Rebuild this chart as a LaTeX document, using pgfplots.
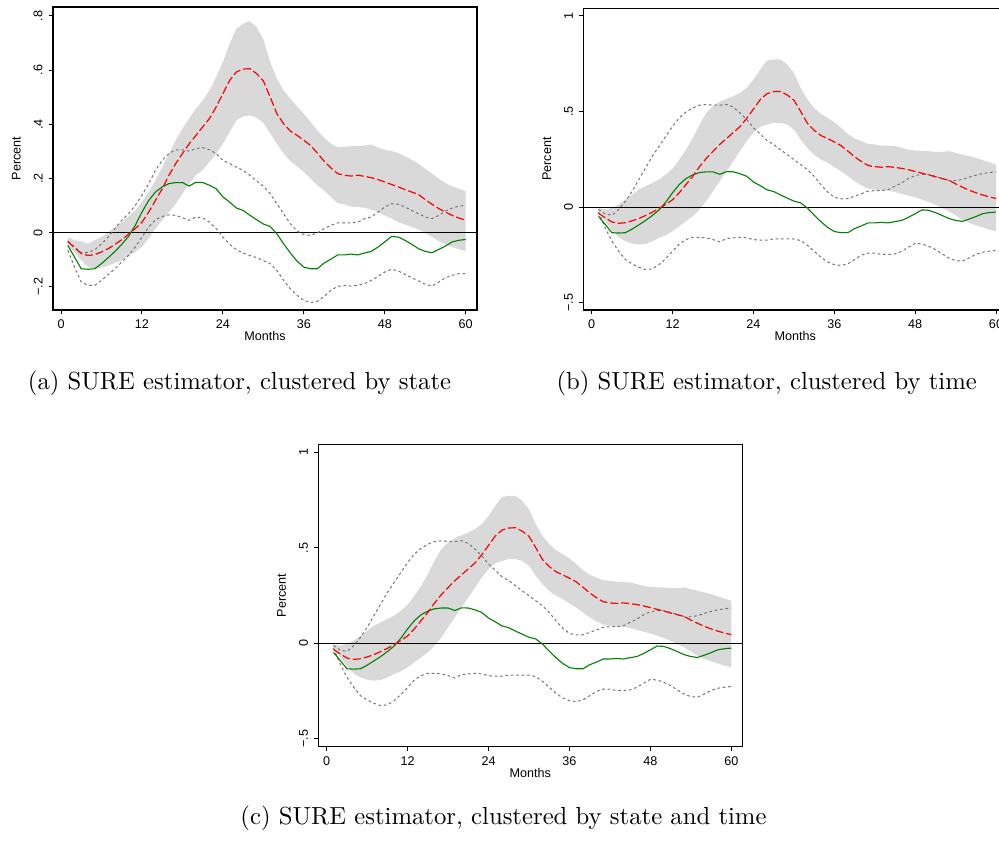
\documentclass[border=0pt]{standalone}
\usepackage{fontspec}
\usepackage{pgfplots}
\usepackage{pgfplotstable}
\pgfplotsset{compat=1.18}
\usepgfplotslibrary{fillbetween}
\newfontfamily\stfont{Liberation Sans}
\newfontfamily\capfont{lmroman10-regular}[Extension=.otf]
\definecolor{bandgray}{RGB}{217,217,217}
\definecolor{stgreen}{RGB}{0,128,0}
\definecolor{dotgray}{RGB}{115,115,115}

\pgfplotstableread{
m red grn bua bla dua dla bub blb dub dlb
1 -0.032 -0.047 -0.016 -0.047 -0.032 -0.065 -0.003 -0.021 -0.012 -0.024
2 -0.055 -0.090 -0.028 -0.071 -0.053 -0.127 -0.012 -0.073 -0.035 -0.108
3 -0.077 -0.133 -0.032 -0.102 -0.074 -0.182 -0.003 -0.122 -0.042 -0.178
4 -0.084 -0.135 -0.041 -0.127 -0.073 -0.194 0.014 -0.157 -0.012 -0.230
5 -0.081 -0.133 -0.028 -0.133 -0.063 -0.194 0.040 -0.178 0.031 -0.274
6 -0.071 -0.114 -0.016 -0.129 -0.041 -0.176 0.066 -0.190 0.084 -0.296
7 -0.059 -0.092 0.002 -0.121 -0.016 -0.154 0.092 -0.195 0.145 -0.314
8 -0.043 -0.069 0.021 -0.112 0.015 -0.133 0.110 -0.192 0.206 -0.326
9 -0.026 -0.043 0.039 -0.102 0.046 -0.108 0.127 -0.178 0.267 -0.322
10 -0.006 -0.014 0.060 -0.087 0.070 -0.084 0.145 -0.160 0.319 -0.300
11 0.015 0.027 0.082 -0.071 0.101 -0.053 0.171 -0.146 0.371 -0.268
12 0.039 0.076 0.113 -0.053 0.138 -0.016 0.202 -0.125 0.423 -0.230
13 0.076 0.119 0.150 -0.022 0.181 0.021 0.249 -0.099 0.467 -0.192
14 0.119 0.150 0.193 0.015 0.230 0.048 0.301 -0.073 0.498 -0.169
15 0.162 0.169 0.242 0.046 0.267 0.060 0.362 -0.047 0.519 -0.157
16 0.212 0.181 0.292 0.076 0.292 0.066 0.432 -0.012 0.533 -0.157
17 0.255 0.185 0.341 0.107 0.306 0.064 0.493 0.031 0.537 -0.160
18 0.292 0.185 0.384 0.144 0.306 0.055 0.528 0.084 0.533 -0.169
19 0.328 0.172 0.421 0.181 0.301 0.046 0.551 0.136 0.533 -0.181
20 0.359 0.186 0.458 0.212 0.310 0.058 0.566 0.188 0.537 -0.164
21 0.390 0.185 0.488 0.232 0.314 0.055 0.580 0.240 0.523 -0.160
22 0.421 0.175 0.525 0.261 0.306 0.039 0.598 0.293 0.493 -0.157
23 0.464 0.162 0.574 0.292 0.292 0.015 0.624 0.345 0.458 -0.160
24 0.513 0.132 0.630 0.328 0.267 -0.016 0.667 0.389 0.415 -0.169
25 0.562 0.113 0.697 0.371 0.255 -0.043 0.720 0.420 0.383 -0.172
26 0.593 0.091 0.753 0.415 0.242 -0.063 0.767 0.432 0.348 -0.172
27 0.604 0.082 0.771 0.429 0.230 -0.075 0.772 0.441 0.328 -0.166
28 0.605 0.064 0.781 0.433 0.212 -0.084 0.772 0.441 0.301 -0.166
29 0.587 0.048 0.759 0.424 0.191 -0.092 0.746 0.432 0.275 -0.166
30 0.560 0.032 0.713 0.405 0.172 -0.103 0.702 0.406 0.249 -0.166
31 0.501 0.023 0.630 0.368 0.144 -0.114 0.624 0.354 0.223 -0.174
32 0.439 -0.004 0.568 0.328 0.107 -0.139 0.563 0.310 0.197 -0.199
33 0.402 -0.041 0.525 0.292 0.070 -0.176 0.519 0.275 0.162 -0.230
34 0.375 -0.075 0.494 0.264 0.033 -0.207 0.488 0.249 0.118 -0.261
35 0.359 -0.105 0.466 0.245 0.006 -0.231 0.467 0.232 0.080 -0.286
36 0.341 -0.127 0.439 0.224 -0.007 -0.250 0.444 0.209 0.052 -0.300
37 0.322 -0.133 0.408 0.199 -0.010 -0.258 0.415 0.188 0.044 -0.305
38 0.294 -0.133 0.378 0.175 -0.001 -0.253 0.383 0.162 0.045 -0.296
39 0.264 -0.112 0.351 0.156 0.015 -0.235 0.359 0.136 0.057 -0.274
40 0.239 -0.098 0.328 0.132 0.027 -0.213 0.345 0.115 0.070 -0.251
41 0.218 -0.082 0.316 0.109 0.036 -0.198 0.331 0.098 0.084 -0.240
42 0.212 -0.082 0.316 0.105 0.036 -0.194 0.328 0.092 0.087 -0.240
43 0.209 -0.079 0.319 0.097 0.036 -0.197 0.322 0.087 0.087 -0.247
44 0.212 -0.082 0.319 0.095 0.039 -0.194 0.322 0.087 0.092 -0.247
45 0.208 -0.075 0.322 0.092 0.052 -0.188 0.319 0.080 0.110 -0.244
46 0.203 -0.069 0.325 0.085 0.058 -0.176 0.310 0.070 0.127 -0.230
47 0.196 -0.053 0.314 0.076 0.076 -0.161 0.301 0.061 0.150 -0.209
48 0.187 -0.034 0.306 0.064 0.095 -0.145 0.296 0.052 0.166 -0.188
49 0.178 -0.014 0.301 0.052 0.107 -0.135 0.293 0.040 0.171 -0.192
50 0.169 -0.016 0.294 0.039 0.105 -0.141 0.293 0.028 0.171 -0.204
51 0.159 -0.028 0.282 0.030 0.095 -0.154 0.289 0.014 0.162 -0.221
52 0.150 -0.043 0.269 0.021 0.082 -0.166 0.289 -0.003 0.150 -0.244
53 0.141 -0.059 0.255 0.012 0.070 -0.178 0.293 -0.021 0.139 -0.265
54 0.122 -0.069 0.236 -0.001 0.058 -0.190 0.284 -0.042 0.139 -0.279
55 0.105 -0.074 0.218 -0.016 0.052 -0.197 0.275 -0.064 0.145 -0.282
56 0.089 -0.062 0.199 -0.031 0.064 -0.182 0.267 -0.082 0.157 -0.265
57 0.076 -0.049 0.183 -0.043 0.080 -0.166 0.258 -0.094 0.167 -0.247
58 0.064 -0.034 0.171 -0.053 0.091 -0.157 0.246 -0.105 0.176 -0.235
59 0.054 -0.028 0.162 -0.061 0.098 -0.151 0.235 -0.117 0.181 -0.230
60 0.046 -0.025 0.154 -0.069 0.101 -0.151 0.223 -0.125 0.185 -0.226
}\irfdata

\pgfplotsset{
  stpanel/.style={
    scale only axis, width=212pt,
    anchor=south west,
    axis line style={line width=0.6pt, black},
    tick align=outside, tick pos=left,
    major tick length=2.2pt,
    tick style={line width=0.5pt, black},
    xtick={0,12,24,36,48,60},
    xticklabels={0,12,24,36,48,60},
    ticklabel style={font=\stfont\fontsize{6.3}{7}\selectfont},
    xticklabel style={inner sep=2.4pt, anchor=north},
    yticklabel style={rotate=90, anchor=south, inner sep=2.8pt},
    label style={font=\stfont\fontsize{6.3}{7}\selectfont},
    xlabel={Months}, ylabel={Percent},
    xlabel style={at={(axis description cs:0.5,-0.1015)}, anchor=base},
    ylabel style={at={(axis description cs:-0.0762,0.5)}, anchor=base},
    clip=true,
  },
}

\newcommand{\drawpanel}[5]{%
  \addplot[draw=none, name path=#5U, forget plot] table[x=m,y=#1]{\irfdata};
  \addplot[draw=none, name path=#5L, forget plot] table[x=m,y=#2]{\irfdata};
  \addplot[bandgray, draw=none, forget plot] fill between[of=#5U and #5L];
  \addplot[black, line width=0.6pt, forget plot] coordinates {(-5,0) (65,0)};
  \addplot[dotgray, line width=0.5pt, dash pattern=on 1.3pt off 1.4pt, forget plot] table[x=m,y=#3]{\irfdata};
  \addplot[dotgray, line width=0.5pt, dash pattern=on 1.3pt off 1.4pt, forget plot] table[x=m,y=#4]{\irfdata};
  \addplot[stgreen, line width=0.55pt, forget plot] table[x=m,y=grn]{\irfdata};
  \addplot[red, line width=0.6pt, dash pattern=on 4pt off 1.5pt, forget plot] table[x=m,y=red]{\irfdata};
}

\begin{document}
\begin{tikzpicture}

% panel (a)
\begin{axis}[stpanel, at={(26.5pt,265pt)}, height=151.5pt,
  xmin=-1.19, xmax=61.67, ymin=-0.2852, ymax=0.8328,
  ytick={-0.2,0,0.2,0.4,0.6,0.8},
  yticklabels={−.2,0,.2,.4,.6,.8}]
\drawpanel{bua}{bla}{dua}{dla}{a}
\end{axis}

% panel (b)
\begin{axis}[stpanel, at={(291.65pt,265pt)}, height=150.9pt,
  xmin=-1.25, xmax=61.68, ymin=-0.537, ymax=1.04,
  ytick={-0.5,0,0.5,1},
  yticklabels={−.5,0,.5,1}]
\drawpanel{bub}{blb}{dub}{dlb}{b}
\end{axis}

% panel (c)
\begin{axis}[stpanel, at={(159.15pt,46.65pt)}, height=151.2pt,
  xmin=-1.25, xmax=61.64, ymin=-0.541, ymax=1.042,
  ytick={-0.5,0,0.5,1},
  yticklabels={−.5,0,.5,1}]
\drawpanel{bub}{blb}{dub}{dlb}{c}
\end{axis}

\node[anchor=base, inner sep=0pt, font=\capfont\fontsize{12.35}{15}\selectfont] at (119.75pt,225.35pt) {(a) SURE estimator, clustered by state};
\node[anchor=base, inner sep=0pt, font=\capfont\fontsize{12.35}{15}\selectfont] at (383.35pt,225.35pt) {(b) SURE estimator, clustered by time};
\node[anchor=base, inner sep=0pt, font=\capfont\fontsize{12.35}{15}\selectfont] at (251.75pt,8pt) {(c) SURE estimator, clustered by state and time};

\pgfresetboundingbox
\path[use as bounding box] (0,0) rectangle (499.5pt,420pt);
\end{tikzpicture}
\end{document}
